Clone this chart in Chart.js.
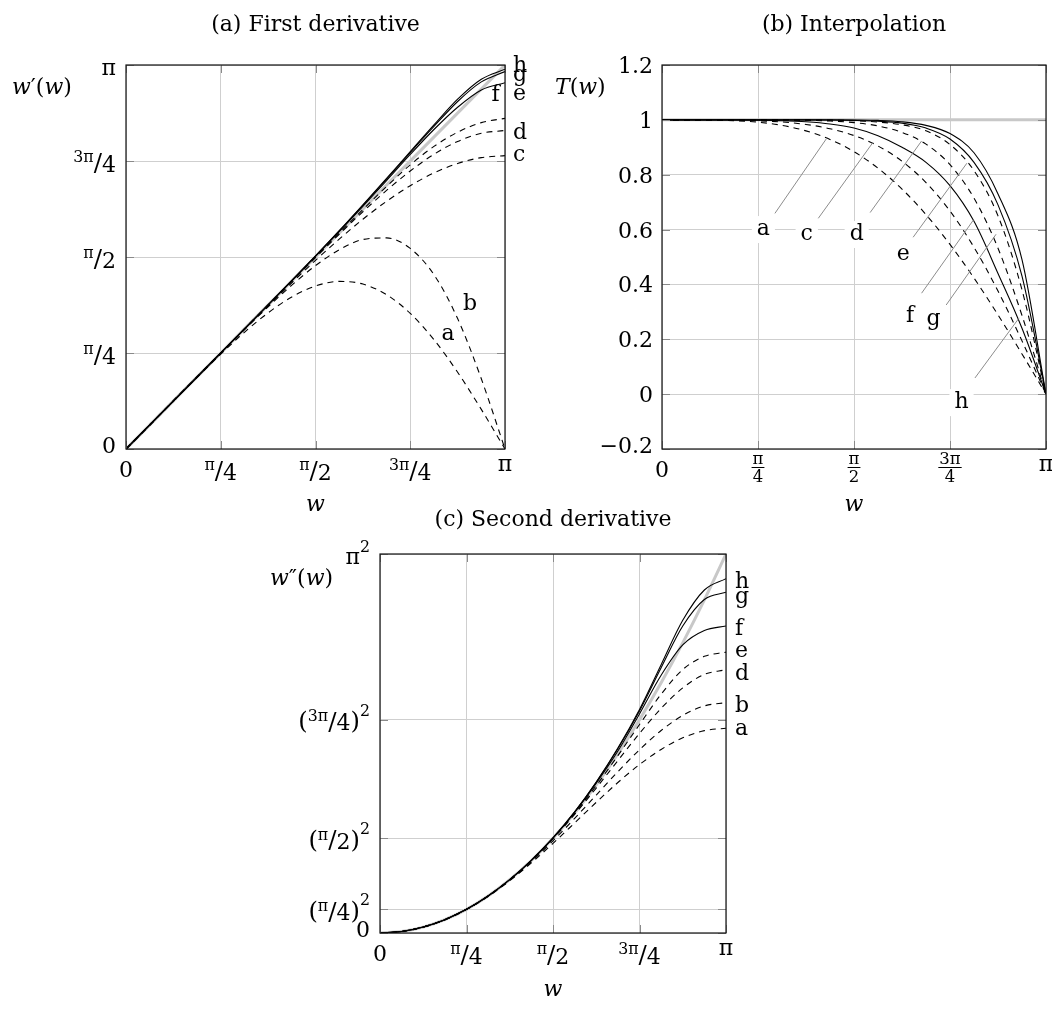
<!DOCTYPE html>
<html>
<head>
<meta charset="utf-8">
<script src="https://cdn.jsdelivr.net/npm/chart.js@4.4.1/dist/chart.umd.min.js"></script>
<style>
  body { margin: 0; background: #fff; width: 1052px; height: 1010px; position: relative; overflow: hidden; }
  canvas { position: absolute; }
</style>
</head>
<body>
<canvas id="chartA" width="530" height="520" style="left:0;top:0"></canvas>
<canvas id="chartB" width="522" height="520" style="left:530px;top:0"></canvas>
<canvas id="chartC" width="580" height="520" style="left:240px;top:490px"></canvas>
<script>
// w / pi sample points shared by all curves
const W = [0, 0.0625, 0.125, 0.1875, 0.25, 0.3125, 0.375, 0.4375, 0.5, 0.5625, 0.625, 0.6875, 0.75, 0.8125, 0.875, 0.9375, 1];

// (a) first derivative, w'(w) / pi
const exactAx = [0, 1];
const exactA = [0, 1];
const d1a = [0, 0.0625, 0.1249, 0.1868, 0.2471, 0.3039, 0.3546, 0.3960, 0.4244, 0.4366, 0.4296, 0.4019, 0.3532, 0.2848, 0.1999, 0.1031, 0];
const d1b = [0, 0.0625, 0.1250, 0.1874, 0.2494, 0.3107, 0.3703, 0.4267, 0.4775, 0.5189, 0.5455, 0.5497, 0.5223, 0.4540, 0.3396, 0.1828, 0];
const d1c = [0, 0.0625, 0.1250, 0.1874, 0.2497, 0.3116, 0.3729, 0.4329, 0.4911, 0.5465, 0.5983, 0.6451, 0.6857, 0.7189, 0.7436, 0.7588, 0.7639];
const d1d = [0, 0.0625, 0.1250, 0.1875, 0.2500, 0.3125, 0.3748, 0.4369, 0.4986, 0.5592, 0.6179, 0.6734, 0.7240, 0.7674, 0.8009, 0.8222, 0.8295];
const d1e = [0, 0.0625, 0.1250, 0.1875, 0.2500, 0.3125, 0.3750, 0.4375, 0.4999, 0.5622, 0.6238, 0.6836, 0.7400, 0.7880, 0.8250, 0.8500, 0.8610];
const d1f = [0, 0.0625, 0.1250, 0.1875, 0.2500, 0.3125, 0.3752, 0.4380, 0.5015, 0.5660, 0.6320, 0.6990, 0.7670, 0.8320, 0.8900, 0.9350, 0.9540];
const d1g = [0, 0.0625, 0.1250, 0.1875, 0.2500, 0.3126, 0.3754, 0.4385, 0.5025, 0.5675, 0.6345, 0.7025, 0.7720, 0.8400, 0.9050, 0.9560, 0.9830];
const d1h = [0, 0.0625, 0.1250, 0.1875, 0.2500, 0.3126, 0.3756, 0.4390, 0.5030, 0.5685, 0.6360, 0.7045, 0.7745, 0.8440, 0.9110, 0.9630, 0.9890];

// (b) interpolation transfer function T(w)
const exactBx = [0, 1];
const exactB = [1, 1];
const tA = [1, 1, 0.9995, 0.9973, 0.9915, 0.9799, 0.9598, 0.9286, 0.8839, 0.8239, 0.7476, 0.6547, 0.5460, 0.4232, 0.2889, 0.1466, 0];
const tC = [1, 1, 0.9998, 0.9990, 0.9969, 0.9922, 0.9832, 0.9678, 0.9428, 0.9047, 0.8491, 0.7714, 0.6676, 0.5354, 0.3759, 0.1942, 0];
const tD = [1, 1, 1, 1, 0.9999, 0.9995, 0.9985, 0.9958, 0.9900, 0.9779, 0.9544, 0.9114, 0.8366, 0.7146, 0.5320, 0.2867, 0];
const tE = [1, 1, 1, 1, 1, 1, 0.9998, 0.9990, 0.9970, 0.9920, 0.9820, 0.9600, 0.9100, 0.8150, 0.6500, 0.3800, 0];
const tF = [1, 1, 1, 0.9998, 0.9990, 0.9970, 0.9930, 0.9850, 0.9700, 0.9420, 0.9000, 0.8450, 0.7600, 0.6300, 0.4400, 0.2400, 0];
const tG = [1, 1, 1, 1, 1, 1, 1, 0.9995, 0.9980, 0.9950, 0.9880, 0.9700, 0.9300, 0.8450, 0.6900, 0.4300, 0];
const tH = [1, 1, 1, 1, 1, 1, 1, 1, 0.9995, 0.9980, 0.9930, 0.9800, 0.9500, 0.8800, 0.7300, 0.4900, 0];

// (c) second derivative, w''(w) / pi^2
const exactC = [0, 0.0039, 0.0156, 0.0352, 0.0625, 0.0977, 0.1406, 0.1914, 0.2500, 0.3164, 0.3906, 0.4727, 0.5625, 0.6602, 0.7656, 0.8789, 1];
const d2a = [0, 0.0039, 0.0156, 0.0351, 0.0622, 0.0967, 0.1380, 0.1850, 0.2364, 0.2904, 0.3448, 0.3970, 0.4444, 0.4844, 0.5149, 0.5339, 0.5404];
const d2b = [0, 0.0039, 0.0156, 0.0351, 0.0624, 0.0973, 0.1394, 0.1884, 0.2432, 0.3024, 0.3641, 0.4256, 0.4835, 0.5342, 0.5739, 0.5992, 0.6079];
const d2d = [0, 0.0039, 0.0156, 0.0352, 0.0625, 0.0976, 0.1405, 0.1910, 0.2487, 0.3130, 0.3825, 0.4549, 0.5266, 0.5926, 0.6466, 0.6823, 0.6948];
const d2e = [0, 0.0039, 0.0156, 0.0352, 0.0625, 0.0977, 0.1406, 0.1914, 0.2499, 0.3160, 0.3890, 0.4680, 0.5500, 0.6300, 0.6950, 0.7300, 0.7410];
const d2f = [0, 0.0039, 0.0156, 0.0352, 0.0625, 0.0977, 0.1407, 0.1916, 0.2505, 0.3180, 0.3950, 0.4800, 0.5780, 0.6800, 0.7600, 0.7980, 0.8100];
const d2g = [0, 0.0039, 0.0156, 0.0352, 0.0625, 0.0977, 0.1407, 0.1917, 0.2508, 0.3190, 0.3975, 0.4860, 0.5860, 0.7000, 0.8100, 0.8800, 0.8990];
const d2h = [0, 0.0039, 0.0156, 0.0352, 0.0625, 0.0977, 0.1407, 0.1917, 0.2509, 0.3195, 0.3985, 0.4880, 0.5900, 0.7080, 0.8250, 0.9050, 0.9350];

// ticks
const xTicks = [0, 0.25, 0.5, 0.75, 1];
const yTicksA = [0, 0.25, 0.5, 0.75, 1];
const yTicksB = [-0.2, 0, 0.2, 0.4, 0.6, 0.8, 1, 1.2];
const yTicksC = [0, 0.0625, 0.25, 0.5625, 1];

const FS = 22;
const SERIF = '"DejaVu Serif", "Liberation Serif", serif';
const GRID = '#cfcfcf';

// rich text pieces: [text, size factor, dy in em, italic]
const nf = (n, d) => [[n, 0.72, -0.3], ['/', 1.12, 0.1], [d, 1, 0.12]];
const sq = (p) => [['(', 1.1, 0.06]].concat(p, [[')', 1.1, 0.06], ['2', 0.72, -0.55]]);
const PI = [['π', 1]];

const xLabA = [[['0', 1]], nf('π', '4'), nf('π', '2'), nf('3π', '4'), PI];
const yLabA = [[['0', 1]], nf('π', '4'), nf('π', '2'), nf('3π', '4'), PI];
const xLabB = ['0', ['π', '4'], ['π', '2'], ['3π', '4'], 'π'];
const yLabB = ['−0.2', '0', '0.2', '0.4', '0.6', '0.8', '1', '1.2'];
const yLabC = [[['0', 1]], sq(nf('π', '4')), sq(nf('π', '2')), sq(nf('3π', '4')), [['π', 1], ['2', 0.72, -0.55]]];

function rich(ctx, parts, x, y, align) {
  const fonts = [], widths = [];
  let total = 0;
  for (const p of parts) {
    const f = (p[3] ? 'italic ' : '') + (FS * (p[1] || 1)).toFixed(1) + 'px ' + SERIF;
    ctx.font = f;
    const w = ctx.measureText(p[0]).width;
    fonts.push(f); widths.push(w); total += w;
  }
  let cx = align === 'right' ? x - total : align === 'center' ? x - total / 2 : x;
  parts.forEach((p, i) => {
    ctx.font = fonts[i];
    ctx.fillText(p[0], cx, y + (p[2] || 0) * FS);
    cx += widths[i];
  });
  return total;
}

function stackedFrac(ctx, num, den, x, barY) {
  ctx.font = (FS * 0.75) + 'px ' + SERIF;
  const w = Math.max(ctx.measureText(num).width, ctx.measureText(den).width) + 2;
  ctx.textAlign = 'center';
  ctx.fillText(num, x, barY - 3);
  ctx.fillText(den, x, barY + 15);
  ctx.textAlign = 'left';
  ctx.fillRect(x - w / 2, barY, w, 1);
}

const decor = {
  id: 'decor',
  afterDatasetsDraw(chart, args, o) {
    const { ctx, chartArea: a } = chart;
    const sx = chart.scales.x, sy = chart.scales.y;
    ctx.save();
    ctx.fillStyle = '#000';
    ctx.textAlign = 'left';
    ctx.textBaseline = 'alphabetic';

    // inner tick marks
    ctx.strokeStyle = '#8a8a8a';
    ctx.lineWidth = 1;
    ctx.beginPath();
    xTicks.forEach(v => {
      const px = Math.round(sx.getPixelForValue(v)) + 0.5;
      ctx.moveTo(px, a.bottom); ctx.lineTo(px, a.bottom - 8);
      ctx.moveTo(px, a.top); ctx.lineTo(px, a.top + 8);
    });
    o.yTicks.forEach(v => {
      const py = Math.round(sy.getPixelForValue(v)) + 0.5;
      ctx.moveTo(a.left, py); ctx.lineTo(a.left + 8, py);
      ctx.moveTo(a.right, py); ctx.lineTo(a.right - 8, py);
    });
    ctx.stroke();

    // frame
    ctx.strokeStyle = '#111';
    ctx.lineWidth = 1.2;
    ctx.strokeRect(a.left, a.top, a.right - a.left, a.bottom - a.top);

    // leaders
    if (o.leaders) {
      ctx.strokeStyle = '#8c8c8c';
      ctx.lineWidth = 1;
      ctx.beginPath();
      o.leaders.forEach(l => {
        ctx.moveTo(sx.getPixelForValue(l[0]), sy.getPixelForValue(l[1]));
        ctx.lineTo(sx.getPixelForValue(l[2]), sy.getPixelForValue(l[3]));
      });
      ctx.stroke();
    }

    // curve labels
    o.series.forEach(s => {
      const px = sx.getPixelForValue(s[1]), py = sy.getPixelForValue(s[2]);
      ctx.font = FS + 'px ' + SERIF;
      const w = ctx.measureText(s[0]).width;
      const left = s[3] === 'center' ? px - w / 2 : px;
      if (o.labelBg) {
        ctx.fillStyle = '#fff';
        ctx.fillRect(left - 5, py - 19, w + 10, 27);
        ctx.fillStyle = '#000';
      }
      ctx.fillText(s[0], left, py);
    });

    // tick labels
    xTicks.forEach((v, i) => {
      const px = sx.getPixelForValue(v);
      const lab = o.xLabels[i];
      if (typeof lab === 'string') {
        ctx.font = FS + 'px ' + SERIF;
        ctx.textAlign = 'center';
        ctx.fillText(lab, px, lab === 'π' ? o.xBase - 6 : o.xBase);
        ctx.textAlign = 'left';
      } else if (typeof lab[0] === 'string') {
        stackedFrac(ctx, lab[0], lab[1], px, o.xBase - 10);
      } else {
        rich(ctx, lab, px, lab[0][0] === 'π' && lab.length === 1 ? o.xBase - 6 : o.xBase, 'center');
      }
    });
    o.yTicks.forEach((v, i) => {
      const py = sy.getPixelForValue(v) + (o.yShift[i] || 0);
      const lab = o.yLabels[i];
      if (typeof lab === 'string') {
        ctx.font = FS + 'px ' + SERIF;
        ctx.textAlign = 'right';
        ctx.fillText(lab, o.yRight, py + 8);
        ctx.textAlign = 'left';
      } else {
        rich(ctx, lab, o.yRight, py + 8, 'right');
      }
    });

    // titles
    ctx.font = FS + 'px ' + SERIF;
    ctx.textAlign = 'center';
    ctx.fillText(o.title, (a.left + a.right) / 2, o.titleY);
    ctx.font = 'italic ' + FS + 'px ' + SERIF;
    ctx.fillText('w', (a.left + a.right) / 2, o.xTitleY);
    ctx.textAlign = 'left';
    rich(ctx, o.yTitle, o.yTitleX, o.yTitleY, 'left');
    ctx.restore();
  }
};

function pts(xs, ys) { return xs.map((x, i) => ({ x, y: ys[i] })); }
function curve(ys, dashed) {
  return { data: pts(W, ys), borderColor: '#000', borderWidth: 1.1, borderDash: dashed ? [6, 5] : [],
           pointRadius: 0, cubicInterpolationMode: 'monotone', fill: false };
}
function exact(xs, ys) {
  return { data: pts(xs, ys), borderColor: '#c8c8c8', borderWidth: 3, pointRadius: 0,
           cubicInterpolationMode: 'monotone', fill: false, order: 1 };
}

function makeChart(id, datasets, o) {
  return new Chart(document.getElementById(id), {
    type: 'line',
    data: { datasets },
    options: {
      responsive: false,
      animation: false,
      devicePixelRatio: 1,
      layout: { padding: o.pad },
      plugins: { legend: { display: false }, tooltip: { enabled: false }, decor: o },
      scales: {
        x: {
          type: 'linear', min: 0, max: 1,
          afterBuildTicks: s => { s.ticks = xTicks.map(v => ({ value: v })); },
          afterFit: s => { s.height = 0; },
          ticks: { display: false },
          grid: { color: GRID, drawTicks: false },
          border: { display: false }
        },
        y: {
          type: 'linear', min: o.ymin, max: o.ymax,
          afterBuildTicks: s => { s.ticks = o.yTicks.map(v => ({ value: v })); },
          afterFit: s => { s.width = 0; },
          ticks: { display: false },
          grid: { color: GRID, drawTicks: false },
          border: { display: false }
        }
      }
    },
    plugins: [decor]
  });
}

makeChart('chartA', [
  curve(d1h), curve(d1g), curve(d1f),
  curve(d1e, true), curve(d1d, true), curve(d1c, true), curve(d1b, true), curve(d1a, true),
  exact(exactAx, exactA)
], {
  pad: { left: 126, top: 65, right: 25, bottom: 71 },
  ymin: 0, ymax: 1, yTicks: yTicksA,
  xLabels: xLabA, yLabels: yLabA, yShift: [-4, 0, 0, 0, 2], xBase: 477, yRight: 116,
  title: '(a) First derivative', titleY: 31, xTitleY: 511,
  yTitle: [['w', 1, 0, true], ['′(', 1], ['w', 1, 0, true], [')', 1]], yTitleX: 12, yTitleY: 94,
  series: [['h', 1.021, 0.982], ['g', 1.021, 0.958], ['e', 1.021, 0.909], ['d', 1.021, 0.807],
           ['c', 1.021, 0.750], ['f', 0.975, 0.906, 'center'], ['b', 0.908, 0.362, 'center'], ['a', 0.850, 0.284, 'center']]
});

makeChart('chartB', [
  curve(tH), curve(tG), curve(tF),
  curve(tE, true), curve(tD, true), curve(tC, true), curve(tA, true),
  exact(exactBx, exactB)
], {
  pad: { left: 132, top: 65, right: 6, bottom: 71 },
  ymin: -0.2, ymax: 1.2, yTicks: yTicksB,
  xLabels: xLabB, yLabels: yLabB, yShift: [-4, 0, 0, 0, 0, 0, 0, 0], xBase: 477, yRight: 123,
  title: '(b) Interpolation', titleY: 31, xTitleY: 511,
  yTitle: [['T', 1, 0, true], ['(', 1], ['w', 1, 0, true], [')', 1]], yTitleX: 25, yTitleY: 94,
  labelBg: true,
  series: [['a', 0.264, 0.580, 'center'], ['c', 0.377, 0.562, 'center'], ['d', 0.507, 0.562, 'center'],
           ['e', 0.628, 0.489, 'center'], ['f', 0.646, 0.263, 'center'], ['g', 0.707, 0.252, 'center'],
           ['h', 0.780, -0.051, 'center']],
  leaders: [[0.294, 0.659, 0.430, 0.935], [0.407, 0.641, 0.549, 0.917], [0.542, 0.662, 0.676, 0.923],
            [0.654, 0.572, 0.794, 0.842], [0.676, 0.368, 0.811, 0.635], [0.740, 0.325, 0.870, 0.583],
            [0.815, 0.059, 0.930, 0.278]]
});

makeChart('chartC', [
  curve(d2h), curve(d2g), curve(d2f),
  curve(d2e, true), curve(d2d, true), curve(d2b, true), curve(d2a, true),
  exact(W, exactC)
], {
  pad: { left: 140, top: 64, right: 94, bottom: 77 },
  ymin: 0, ymax: 1, yTicks: yTicksC,
  xLabels: xLabA, yLabels: yLabC, yShift: [-4, 0, 0, 0, 2], xBase: 471, yRight: 130,
  title: '(c) Second derivative', titleY: 36, xTitleY: 506,
  yTitle: [['w', 1, 0, true], ['″(', 1], ['w', 1, 0, true], [')', 1]], yTitleX: 30, yTitleY: 95,
  series: [['h', 1.026, 0.910], ['g', 1.026, 0.871], ['f', 1.026, 0.786], ['e', 1.026, 0.728],
           ['d', 1.026, 0.668], ['b', 1.026, 0.583], ['a', 1.026, 0.522]]
});
</script>
</body>
</html>
